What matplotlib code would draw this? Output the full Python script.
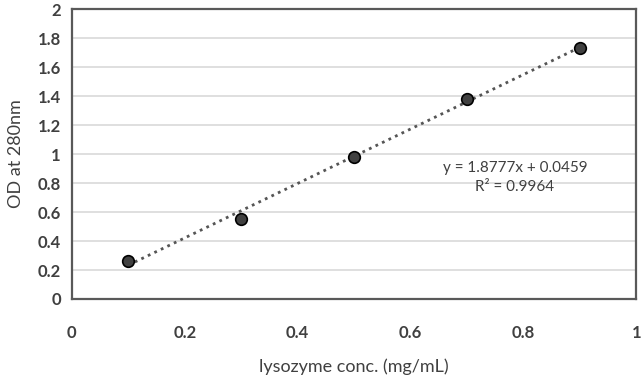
import numpy as np
import matplotlib
matplotlib.use("Agg")
import matplotlib.pyplot as plt

plt.rcParams['font.family'] = ['Lato', 'DejaVu Sans']

# data
conc = [0.1, 0.3, 0.5, 0.7, 0.9]
od280 = [0.26, 0.55, 0.98, 1.38, 1.73]
slope, intercept = 1.8777, 0.0459
eq_text = "y = 1.8777x + 0.0459\nR² = 0.9964"

fig = plt.figure(figsize=(6.42, 3.78), dpi=100)
ax = fig.add_axes([0.112, 0.209, 0.879, 0.767])

# trendline over the data range
xs = np.array([min(conc), max(conc)])
ax.plot(xs, slope * xs + intercept, linestyle=(0, (1, 1.6)), color='#555555',
        linewidth=2.0, zorder=2)
ax.scatter(conc, od280, s=70, color='#404040', edgecolors='black',
           linewidths=1.2, zorder=3)

ax.set_xlim(0, 1)
ax.set_ylim(0, 2)
ax.set_xticks(np.arange(0, 1.01, 0.2))
ax.set_xticklabels(['0', '0.2', '0.4', '0.6', '0.8', '1'])
ax.set_yticks(np.arange(0, 2.01, 0.2))
ax.set_yticklabels(['0', '0.2', '0.4', '0.6', '0.8', '1', '1.2', '1.4', '1.6', '1.8', '2'])
ax.grid(axis='y', color='#d9d9d9', linewidth=1.2)
ax.set_axisbelow(True)
for sp in ax.spines.values():
    sp.set_color('#595959')
    sp.set_linewidth(1.6)
ax.tick_params(length=0, labelsize=12, labelcolor='#404040', pad=8)
ax.tick_params(axis='x', pad=19)
for lab in ax.get_xticklabels() + ax.get_yticklabels():
    lab.set_fontweight('bold')

ax.set_xlabel("lysozyme conc. (mg/mL)", fontsize=13, color='#404040', labelpad=12)
ax.set_ylabel("OD at 280nm", fontsize=13, color='#404040', labelpad=10)

ax.text(0.785, 0.84, eq_text, ha='center', va='center', fontsize=11,
        color='#404040', linespacing=1.45)

fig.savefig("out.png", dpi=100)
